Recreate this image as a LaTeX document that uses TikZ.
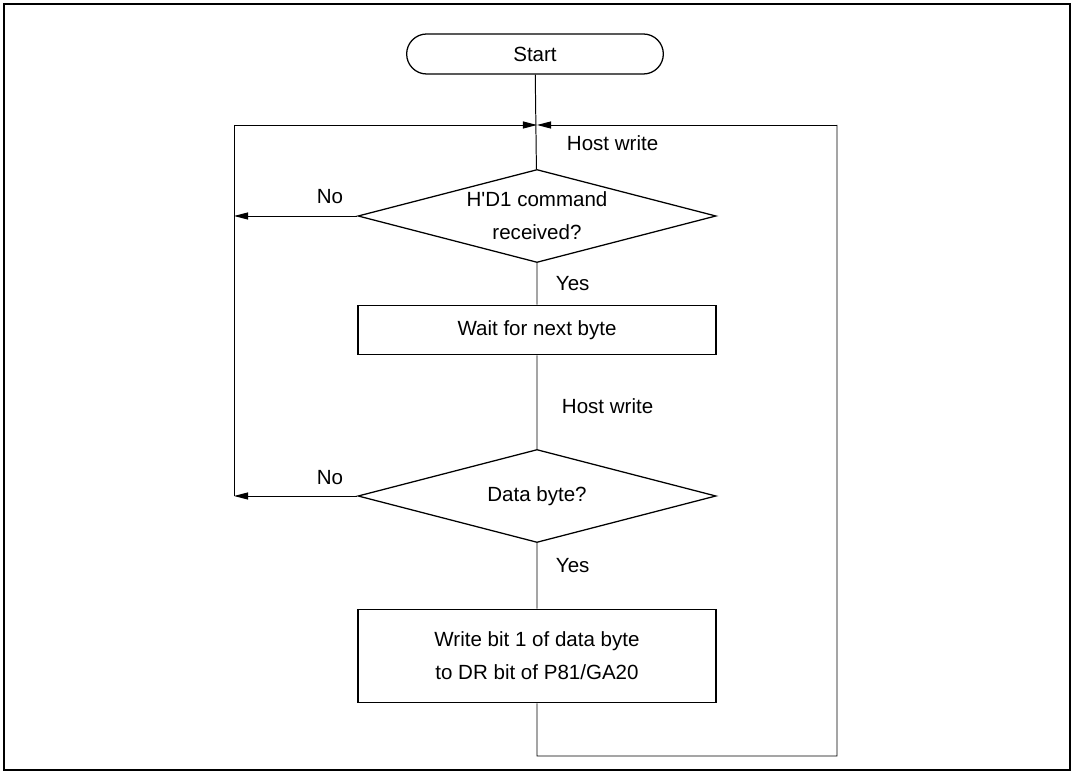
\documentclass[tikz,border=0pt]{standalone}
\usepackage{fontspec}
\setmainfont{Liberation Sans}
\usetikzlibrary{shapes.geometric,shapes.misc,arrows.meta}
\tikzset{
  flow/.style={line width=0.7pt},
  tip/.style={-{Triangle[length=10pt,width=5pt]}},
  procbox/.style={draw, line width=1.3pt, minimum width=358\unit, align=center},
  decide/.style={draw, diamond, aspect=3.85, minimum width=358\unit, minimum height=93\unit, inner sep=0pt, align=center, line width=0.9pt},
  termbox/.style={draw, rounded rectangle, minimum width=266\unit, minimum height=40\unit, line width=0.9pt},
  lbl/.style={anchor=west}
}
\newcommand{\unit}{pt*0.7113}
\begin{document}
\begin{tikzpicture}[x=0.025cm, y=-0.025cm, font=\fontsize{14.6}{23.5}\selectfont]
\useasboundingbox (0,0) rectangle (1074,774);
\draw[line width=0.9pt] (4,4) rectangle (1070,770);
\node[termbox] (start) at (535,54) {Start};
\coordinate (merge) at (537,125);
\coordinate (tl) at (234,125);
\coordinate (tr) at (837,125);
\node[decide] (cmd) at (537,216) {H\textquotesingle D1 command\\received?};
\node[procbox, minimum height=49\unit] (wait) at (537,330) {Wait for next byte};
\node[decide] (data) at (537,496) {Data byte?};
\node[procbox, minimum height=93\unit] (wr) at (537,656) {Write bit 1 of data byte\\to DR bit of P81/GA20};
\coordinate (bl) at (537,756);
\coordinate (br) at (837,756);
\coordinate (nocmd) at (234,216);
\coordinate (nodata) at (234,496);
% main line
\draw[flow] (start) -- (cmd) -- (wait) -- (data) -- (wr) -- (bl) -- (br) -- (tr);
\draw[flow, tip] (tr) -- (merge);
\draw[flow, tip] (tl) -- (merge);
\draw[flow] (tl) -- (nodata);
\draw[flow, tip] (cmd.west) -- (nocmd);
\draw[flow, tip] (data.west) -- (nodata);
% labels
\node[lbl] (hw1) at (562,143) {Host write};
\node (no1) at (330,197) {No};
\node[lbl] (yes1) at (551,284) {Yes};
\node[lbl] (hw2) at (557,406) {Host write};
\node (no2) at (330,478) {No};
\node[lbl] (yes2) at (551,566) {Yes};
\end{tikzpicture}
\end{document}
